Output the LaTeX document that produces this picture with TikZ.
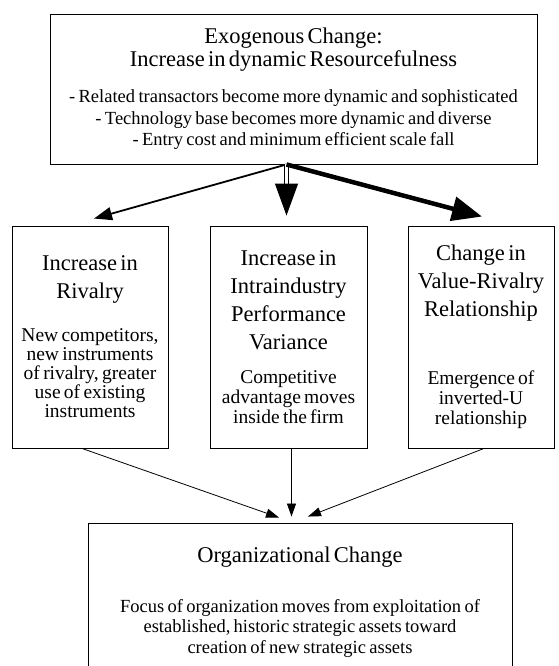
\documentclass[tikz,border=0pt]{standalone}
\usepackage{fontspec}
\setmainfont[WordSpace=1.25]{Liberation Serif}
\usetikzlibrary{arrows.meta,positioning}
\setlength{\parindent}{0pt}
\setlength{\parskip}{0pt}

\newcommand{\headtext}[2][28]{{\fontsize{22.5}{#1}\selectfont #2\par}}
\newcommand{\bodytext}[2][20]{{\fontsize{18.5}{#1}\selectfont #2\par}}
\newcommand{\sidetext}[2][20]{{\fontsize{19.5}{#1}\selectfont #2\par}}

\begin{document}
\begin{tikzpicture}[x=1pt,y=-1pt,
		panel/.style={draw, line width=0.9pt, align=center, inner sep=0pt},
		feed/.style={line width=0.8pt, -{Triangle[length=13pt,width=9pt]}}]
		
		\useasboundingbox (0,0) rectangle (558,666);
		\clip (0,0) rectangle (558,666);
		
		\node[panel, minimum width=487pt, minimum height=150pt, text width=481pt] (exo) at (293.5,89) {%
			\headtext[23]{Exogenous Change:\\ Increase in dynamic Resourcefulness}%
			\vspace{14.5pt}%
			\bodytext[21.5]{- Related transactors become more dynamic and sophisticated\\
				- Technology base becomes more dynamic and diverse\\
				- Entry cost and minimum efficient scale fall}};
		
		\node[panel, minimum width=156pt, minimum height=222pt, text width=152pt] (rivalry) at (90,337) {%
			\headtext{Increase in\\ Rivalry}%
			\vspace{24pt}%
			\sidetext[19]{New competitors,\\ new instruments\\ of rivalry, greater\\ use of existing\\ instruments}%
			\vspace{22pt}};
		
		\node[panel, minimum width=157pt, minimum height=222pt, text width=153pt] (variance) at (288.5,337) {%
			\headtext{Increase in\\ Intraindustry\\ Performance\\ Variance}%
			\vspace{14pt}%
			\sidetext{Competitive\\ advantage moves\\ inside the firm}%
			\vspace{8pt}};
		
		\node[panel, minimum width=146pt, minimum height=222pt, text width=142pt] (valuerel) at (481,337) {%
			\headtext{Change in\\ Value-Rivalry\\ Relationship}%
			\vspace{48pt}%
			\sidetext{Emergence of\\ inverted-U\\ relationship}};
		
		\node[panel, minimum width=424pt, minimum height=158pt, text width=414pt] (org) at (300,602) {%
			\headtext{Organizational Change}%
			\vspace{29.5pt}%
			\bodytext[20.5]{Focus of organization moves from exploitation of\\
				established, historic strategic assets toward\\
				creation of new strategic assets}};
		
		\coordinate (fork) at ([xshift=-7pt]exo.south);
		\coordinate (midtip) at ([yshift=10pt]variance.north);
		\coordinate (orgtop) at ([yshift=6pt]org.north);
		\coordinate (varout) at ([xshift=3pt]variance.south);
		
		\draw[line width=1.8pt, -{Triangle[length=18pt,width=13pt]}] (fork) -- ([xshift=4pt,yshift=7pt]rivalry.north);
		\draw[line width=1.1pt, double, double distance=3.6pt, -{Triangle[length=32pt,width=23pt]}] (fork) -- (fork |- midtip);
		\draw[line width=4.5pt, -{Triangle[length=30pt,width=24pt]}] (fork) -- ([xshift=1pt,yshift=9pt]valuerel.north);
		
		\draw[feed] ([xshift=-8pt]rivalry.south) -- ([xshift=-21pt,yshift=5pt]org.north);
		\draw[feed] (varout) -- (varout |- orgtop);
		\draw[feed] ([xshift=3pt]valuerel.south) -- ([xshift=8pt,yshift=6pt]org.north);
		
	\end{tikzpicture}
\end{document}
